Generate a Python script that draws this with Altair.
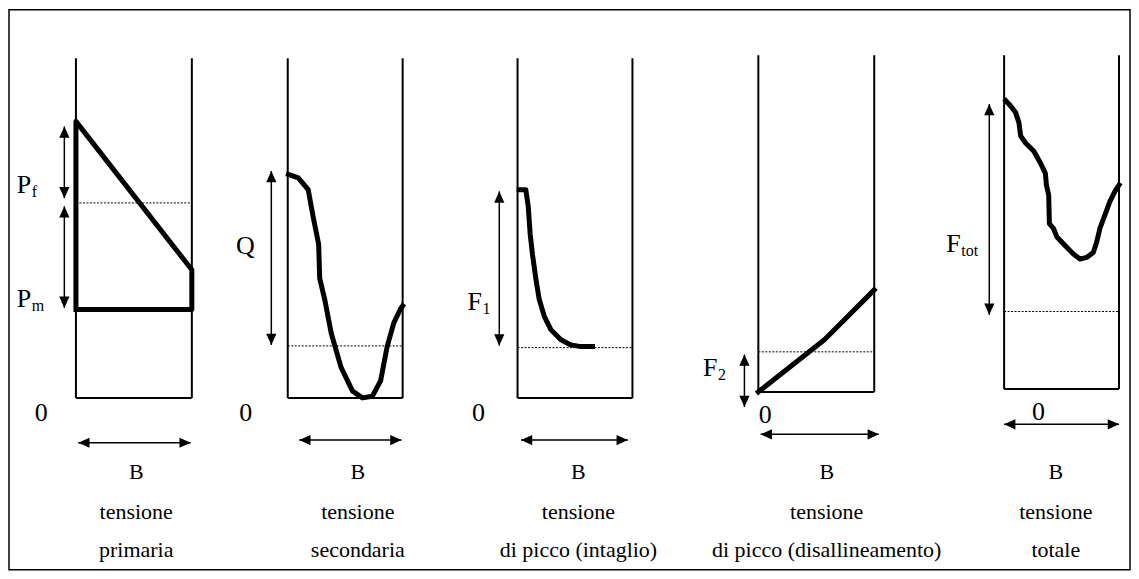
import altair as alt
import pandas as pd

FONT = "Liberation Serif, Times New Roman, serif"

# ---------------- data ----------------
caption_top = ["tensione", "tensione", "tensione", "tensione", "tensione"]
caption_bottom = ["primaria", "secondaria", "di picco (intaglio)",
                  "di picco (disallineamento)", "totale"]
width_label = "B"
zero_label = "0"

# stress profiles: x = fraction of section width B, stress with 100 = frame height
p1_x = [0.0, 0.0, 1.0, 1.0, 0.0]
p1_y = [26.0, 81.4, 37.7, 26.0, 26.0]

p2_x = [0.006, 0.092, 0.178, 0.221, 0.269, 0.278, 0.321, 0.378, 0.464, 0.564,
        0.650, 0.736, 0.808, 0.865, 0.923, 0.980, 1.0]
p2_y = [65.8, 64.8, 61.3, 53.3, 45.2, 35.2, 29.1, 19.1, 9.0, 2.0,
        0.0, 0.5, 5.0, 15.1, 22.1, 26.1, 27.1]

p3_x = [0.014, 0.072, 0.093, 0.110, 0.130, 0.159, 0.188, 0.232, 0.290, 0.377,
        0.464, 0.551, 0.652]
p3_y = [61.3, 61.3, 56.3, 48.2, 42.2, 35.2, 29.1, 24.1, 20.1, 17.1,
        15.6, 15.1, 15.1]

p4_x = [0.0, 0.57, 1.0]
p4_y = [0.0, 15.5, 30.3]

p5_x = [0.014, 0.057, 0.100, 0.129, 0.144, 0.187, 0.259, 0.316, 0.359, 0.368,
        0.388, 0.394, 0.431, 0.460, 0.532, 0.603, 0.661, 0.718, 0.776, 0.805,
        0.833, 0.876, 0.920, 0.963, 1.0]
p5_y = [86.4, 84.8, 82.8, 79.8, 75.8, 73.7, 71.2, 67.7, 64.6, 61.1,
        58.1, 49.5, 48.0, 45.5, 42.9, 40.4, 38.9, 39.4, 40.9, 43.9,
        48.0, 52.0, 56.1, 59.1, 61.1]

profiles_x = [p1_x, p2_x, p3_x, p4_x, p5_x]
profiles_y = [p1_y, p2_y, p3_y, p4_y, p5_y]

mean_stress = [57.4, 15.3, 14.8, 11.9, 23.2]

# stress ranges marked with double arrows
range_panel = [0, 0, 1, 2, 3, 4]
range_x = [-0.10, -0.10, -0.143, -0.159, -0.12, -0.129]
range_lo = [58.8, 26.5, 15.6, 15.4, -4.5, 22.2]
range_hi = [79.9, 56.4, 66.8, 60.8, 11.1, 85.4]
range_main = ["P", "P", "Q", "F", "F", "F"]
range_sub = ["f", "m", "", "1", "2", "tot"]
range_label_x = [-0.51, -0.51, -0.45, -0.435, -0.478, -0.503]
range_label_y = [62.7, 29.1, 44.7, 28.1, 7.1, 43.4]

zero_x = [-0.30, -0.365, -0.34, 0.06, 0.30]
zero_y = [-4.4, -4.4, -4.4, -6.8, -7.0]
b_from = [0.02, 0.10, 0.03, 0.02, 0.0]
b_to = [0.99, 0.99, 0.96, 1.04, 1.0]
b_y = [-13.2, -12.4, -12.4, -12.6, -10.6]
caption_x = [0.52, 0.61, 0.53, 0.59, 0.45]

# ---------------- layout ----------------
H = 563
panel_start = [8, 220, 450, 691, 937]
panel_width = [212, 230, 241, 246, 194]
box_left = [75, 287, 517, 758, 1004]
box_width = [116, 115, 115, 116, 115]
box_base = [398, 398, 398, 392, 389]
box_height = [340, 340, 340, 337, 334]
ROW_B, ROW_1, ROW_2 = 464, 504, 542

HEADS = {
    "up": "M0,0L-0.5,1.1L0.5,1.1Z",
    "down": "M0,0L-0.5,-1.1L0.5,-1.1Z",
    "left": "M0,0L1.1,-0.5L1.1,0.5Z",
    "right": "M0,0L-1.1,-0.5L-1.1,0.5Z",
}


def panel(i):
    bw = box_width[i]
    ppu = box_height[i] / 100.0
    xdom = [(panel_start[i] - box_left[i]) / bw,
            (panel_start[i] + panel_width[i] - box_left[i]) / bw]
    ydom = [(box_base[i] - (8 + H)) / ppu, (box_base[i] - 8) / ppu]
    xs = alt.Scale(domain=xdom, nice=False, zero=False)
    ys = alt.Scale(domain=ydom, nice=False, zero=False)

    def X(f):
        return alt.X(f"{f}:Q", scale=xs, axis=None)

    def Y(f):
        return alt.Y(f"{f}:Q", scale=ys, axis=None)

    layers = []

    # frame of section (open on top)
    box = pd.DataFrame({"x": [0, 1, 0], "x2": [0, 1, 1],
                        "y": [0, 0, 0], "y2": [100, 100, 0]})
    layers.append(alt.Chart(box).mark_rule(color="black", strokeWidth=2).encode(
        x=X("x"), x2="x2:Q", y=Y("y"), y2="y2:Q"))

    # mean level (dotted)
    mean_df = pd.DataFrame({"x": [0.0], "x2": [1.0], "y": [mean_stress[i]]})
    layers.append(alt.Chart(mean_df).mark_rule(
        color="black", strokeWidth=1, strokeDash=[2, 1.5]).encode(
        x=X("x"), x2="x2:Q", y=Y("y")))

    # stress profile
    prof = pd.DataFrame({"x": profiles_x[i], "y": profiles_y[i],
                         "k": list(range(len(profiles_x[i])))})
    layers.append(alt.Chart(prof).mark_line(
        color="black", strokeWidth=5, strokeJoin="round", strokeCap="square").encode(
        x=X("x"), y=Y("y"), order="k:Q"))

    # vertical range arrows
    idx = [j for j in range(len(range_panel)) if range_panel[j] == i]
    shafts = pd.DataFrame({"x": [range_x[j] for j in idx],
                           "y": [range_lo[j] for j in idx],
                           "y2": [range_hi[j] for j in idx]})
    layers.append(alt.Chart(shafts).mark_rule(color="black", strokeWidth=1.5).encode(
        x=X("x"), y=Y("y"), y2="y2:Q"))

    # horizontal width arrow
    bdf = pd.DataFrame({"x": [b_from[i]], "x2": [b_to[i]], "y": [b_y[i]]})
    layers.append(alt.Chart(bdf).mark_rule(color="black", strokeWidth=1.5).encode(
        x=X("x"), x2="x2:Q", y=Y("y")))

    heads = pd.DataFrame({
        "x": [range_x[j] for j in idx] * 2 + [b_from[i], b_to[i]],
        "y": [range_hi[j] for j in idx] + [range_lo[j] for j in idx] + [b_y[i], b_y[i]],
        "dir": ["up"] * len(idx) + ["down"] * len(idx) + ["left", "right"],
    })
    layers.append(alt.Chart(heads).mark_point(
        filled=True, color="black", opacity=1, size=420, strokeWidth=0).encode(
        x=X("x"), y=Y("y"),
        shape=alt.Shape("dir:N", legend=None,
                        scale=alt.Scale(domain=list(HEADS.keys()),
                                        range=list(HEADS.values())))))

    # range labels with subscripts
    lab = pd.DataFrame({"x": [range_label_x[j] for j in idx],
                        "y": [range_label_y[j] for j in idx],
                        "m": [range_main[j] for j in idx],
                        "s": [range_sub[j] for j in idx]})
    layers.append(alt.Chart(lab).mark_text(
        font=FONT, fontSize=26, align="left", baseline="middle", color="black").encode(
        x=X("x"), y=Y("y"), text="m:N"))
    layers.append(alt.Chart(lab).mark_text(
        font=FONT, fontSize=16, align="left", baseline="middle", color="black",
        dx=15, dy=7).encode(
        x=X("x"), y=Y("y"), text="s:N"))

    # zero label
    zdf = pd.DataFrame({"x": [zero_x[i]], "y": [zero_y[i]], "t": [zero_label]})
    layers.append(alt.Chart(zdf).mark_text(
        font=FONT, fontSize=26, align="center", baseline="middle", color="black").encode(
        x=X("x"), y=Y("y"), text="t:N"))

    # B and captions
    cdf = pd.DataFrame({"x": [caption_x[i]], "b": [width_label],
                        "c1": [caption_top[i]], "c2": [caption_bottom[i]]})
    for field, row, fs in (("b", ROW_B, 22), ("c1", ROW_1, 22), ("c2", ROW_2, 22)):
        layers.append(alt.Chart(cdf).mark_text(
            font=FONT, fontSize=fs, align="center", baseline="middle", color="black").encode(
            x=X("x"), y=alt.value(row), text=f"{field}:N"))

    if i == 0:
        fr = pd.DataFrame({"a": [0]})
        layers.append(alt.Chart(fr).mark_rect(
            filled=False, stroke="black", strokeWidth=1.5).encode(
            x=alt.value(0), x2=alt.value(1122),
            y=alt.value(1.5), y2=alt.value(562)))

    return alt.layer(*layers).properties(width=panel_width[i], height=H)


chart = alt.hconcat(*[panel(i) for i in range(5)], spacing=0, bounds="flush").properties(
    padding=0, background="white").configure_view(stroke=None)

chart.save("out.html", embed_options={"renderer": "svg", "actions": False})
